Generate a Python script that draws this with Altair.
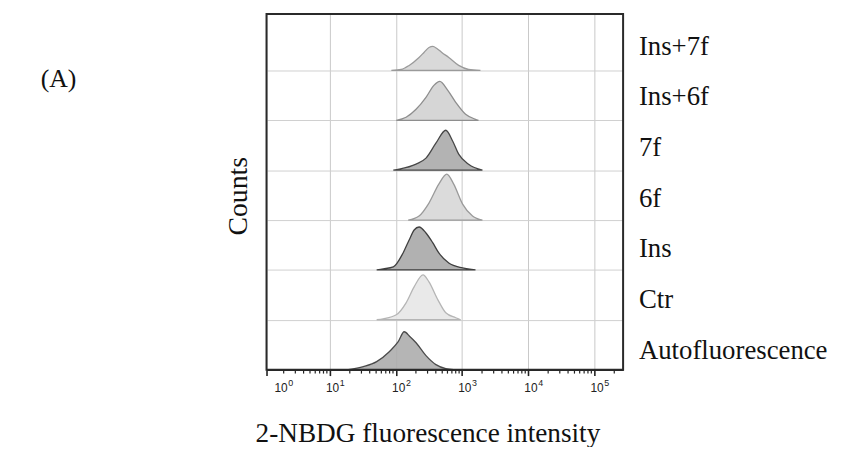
import altair as alt
import pandas as pd

# ---- data ----
samples = ["Ins+7f", "Ins+6f", "7f", "6f", "Ins", "Ctr", "Autofluorescence"]
row_base = [6, 5, 4, 3, 2, 1, 0]
fill_colors = ["#d4d4d4", "#d0d0d0", "#a9a9a9", "#d6d6d6", "#a6a6a6", "#e6e6e6", "#ababab"]
stroke_colors = ["#9a9a9a", "#8e8e8e", "#474747", "#9a9a9a", "#3f3f3f", "#b5b5b5", "#4a4a4a"]

ins7f_int = [85, 120, 158, 223, 265, 315, 361, 415, 493, 628, 887, 1251, 1893]
ins7f_cnt = [0, 2, 10, 26, 36, 46, 48, 44, 36, 26, 10, 2, 0]
ins6f_int = [101, 142, 201, 284, 374, 460, 607, 800, 1128, 1593, 1767]
ins6f_cnt = [0, 6, 22, 46, 70, 78, 60, 36, 12, 2, 0]
f7_int = [91, 112, 201, 284, 401, 566, 721, 887, 1251, 2029]
f7_cnt = [0, 2, 12, 24, 54, 80, 58, 32, 12, 0]
f6_int = [153, 223, 315, 444, 586, 746, 1017, 1437, 2029]
f6_cnt = [0, 8, 34, 72, 92, 72, 32, 8, 0]
ins_int = [51, 64, 91, 128, 158, 188, 223, 284, 361, 444, 628, 1017, 1593]
ins_cnt = [0, 2, 6, 34, 60, 80, 86, 74, 54, 34, 14, 4, 0]
ctr_int = [51, 64, 101, 142, 188, 256, 315, 430, 566, 800, 950]
ctr_cnt = [0, 2, 10, 34, 66, 90, 76, 40, 14, 4, 0]
auto_int = [19, 32, 51, 79, 108, 133, 163, 201, 284, 401, 566, 746]
auto_cnt = [0, 6, 16, 36, 56, 76, 66, 54, 28, 10, 2, 0]

decade_values = [1, 10, 100, 1000, 10000, 100000]
decade_exps = ["0", "1", "2", "3", "4", "5"]
axis_ticks = [1.1, 10, 100, 1000, 10000, 100000]
minor_ticks = [m * 10 ** k for k in range(5) for m in range(2, 10)] + [200000]
row_lines = [1, 2, 3, 4, 5, 6]

curves = [ins7f_int, ins6f_int, f7_int, f6_int, ins_int, ctr_int, auto_int]
counts = [ins7f_cnt, ins6f_cnt, f7_cnt, f6_cnt, ins_cnt, ctr_cnt, auto_cnt]

rows = []
for s, b, xs, cs in zip(samples, row_base, curves, counts):
    for x, c in zip(xs, cs):
        rows.append({"sample": s, "base": b, "intensity": x, "count": c})
df = pd.DataFrame(rows)
lab_df = pd.DataFrame({"sample": samples, "base": row_base})
minor_df = pd.DataFrame({"v": minor_ticks})
dec_df = pd.DataFrame({"v": decade_values, "e": decade_exps})

SERIF = "Liberation Serif"
xscale = alt.Scale(type="log", domain=[1.1, 272000])
yscale = alt.Scale(domain=[0, 7.13])

areas = alt.Chart(df).transform_calculate(
    top="datum.base + datum.count / 100"
).mark_area(strokeWidth=1.3, fillOpacity=0.88, interpolate="monotone").encode(
    x=alt.X("intensity:Q", scale=xscale,
            axis=alt.Axis(values=axis_ticks, title=None, grid=True, labels=False,
                          gridColor="#c8c8c8", gridWidth=1,
                          domainColor="#222222", domainWidth=2,
                          tickColor="#222222", tickWidth=1.6, tickSize=6)),
    y=alt.Y("top:Q", scale=yscale,
            axis=alt.Axis(values=row_lines, title=None, labels=False, ticks=False,
                          domain=False, grid=True, gridColor="#cfcfcf", gridWidth=1)),
    y2="base:Q",
    fill=alt.Fill("sample:N", scale=alt.Scale(domain=samples, range=fill_colors), legend=None),
    stroke=alt.Stroke("sample:N", scale=alt.Scale(domain=samples, range=stroke_colors), legend=None),
    detail="sample:N",
)

frame = alt.Chart(pd.DataFrame({"k": [0]})).mark_rect(
    fill=None, stroke="#2a2a2a", strokeWidth=2
).encode(x=alt.value(0), x2=alt.value(360), y=alt.value(0), y2=alt.value(359))

minor = alt.Chart(minor_df).mark_rule(color="#222222", strokeWidth=1.2).encode(
    x=alt.X("v:Q", scale=xscale),
    y=alt.value(359),
    y2=alt.value(363),
)

dec_base = alt.Chart(dec_df).transform_calculate(px="max(datum.v, 1.1)")
first = dec_base.transform_filter("datum.v < 2")
rest = dec_base.transform_filter("datum.v >= 2")
tick_font = dict(font="Liberation Sans", align="left", baseline="alphabetic", color="#222222")


def ten(layer, dx):
    return layer.mark_text(fontSize=12, dx=dx, **tick_font).encode(
        x=alt.X("px:Q", scale=xscale), y=alt.value(382), text=alt.value("10"))


def sup(layer, dx):
    return layer.mark_text(fontSize=9, dx=dx, **tick_font).encode(
        x=alt.X("px:Q", scale=xscale), y=alt.value(376), text="e:N")


tick_labels = [ten(first, 8), sup(first, 22), ten(rest, -4), sup(rest, 10)]

labels = alt.Chart(lab_df).mark_text(
    font=SERIF, fontSize=27, align="left", baseline="middle", color="#111111"
).encode(
    x=alt.value(376),
    y=alt.Y("base:Q", scale=alt.Scale(domain=[-0.371, 6.645]), axis=None),
    text="sample:N",
)

panel_tag = alt.Chart(pd.DataFrame({"t": ["(A)"]})).mark_text(
    font=SERIF, fontSize=26, align="center", baseline="middle", color="#111111"
).encode(x=alt.value(-210), y=alt.value(66), text="t:N")

y_title = alt.Chart(pd.DataFrame({"t": ["Counts"]})).mark_text(
    font=SERIF, fontSize=28, align="center", baseline="middle", angle=270, color="#111111"
).encode(x=alt.value(-28), y=alt.value(184), text="t:N")

x_title = alt.Chart(pd.DataFrame({"t": ["2-NBDG fluorescence intensity"]})).mark_text(
    font=SERIF, fontSize=27.5, align="center", baseline="alphabetic", color="#111111"
).encode(x=alt.value(163), y=alt.value(432), text="t:N")

chart = alt.layer(areas, minor, frame, *tick_labels, labels, panel_tag, y_title, x_title).resolve_scale(
    y="independent"
).properties(
    width=360, height=359,
    autosize=alt.AutoSizeParams(type="none"),
    padding={"left": 261, "top": 4, "right": 220, "bottom": 76},
).configure_view(stroke=None).configure(background="white")

chart.save("out.html", embed_options={"renderer": "svg", "actions": False})
